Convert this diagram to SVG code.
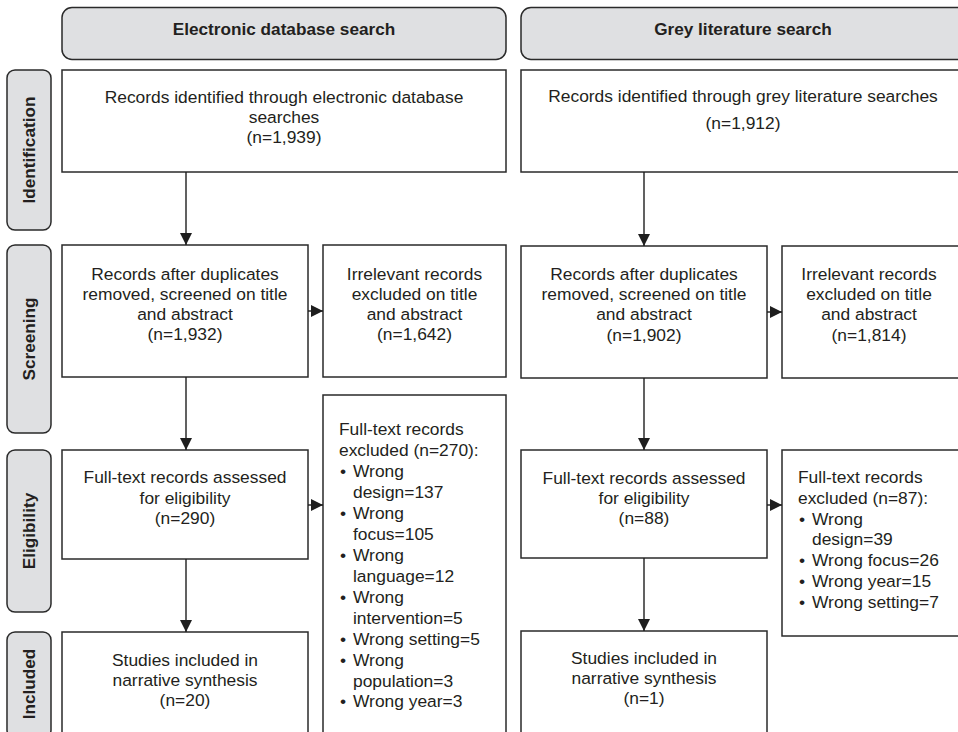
<svg xmlns="http://www.w3.org/2000/svg" width="958" height="732" viewBox="0 0 958 732">
<style>
  .hdr { fill: #dfe0e2; stroke: #2a2a2a; stroke-width: 1.5; }
  .box { fill: #ffffff; stroke: #2a2a2a; stroke-width: 1.5; }
  .t { font-family: "Liberation Sans", Arial, sans-serif; font-size: 17.4px; fill: #231f20; text-anchor: middle; }
  .tl { font-family: "Liberation Sans", Arial, sans-serif; font-size: 17.4px; fill: #231f20; }
  .b { font-family: "Liberation Sans", Arial, sans-serif; font-size: 17.2px; font-weight: bold; fill: #231f20; text-anchor: middle; }
  .conn { stroke: #1e1e1e; stroke-width: 1.4; fill: none; marker-end: url(#ah); }
</style>
<defs>
  <marker id="ah" markerUnits="userSpaceOnUse" markerWidth="12" markerHeight="12" viewBox="0 0 12 12" refX="12" refY="6" orient="auto">
    <path d="M0,0 L12,6 L0,12 Z" fill="#1e1e1e"/>
  </marker>
</defs>
<rect width="958" height="732" fill="#ffffff"/>

<g id="header-electronic">
  <rect class="hdr" x="62" y="7.5" width="444" height="52" rx="10"/>
  <text class="b" x="284" y="35">Electronic database search</text>
</g>
<g id="header-grey">
  <rect class="hdr" x="521" y="7.5" width="460" height="52" rx="10"/>
  <text class="b" x="743" y="35">Grey literature search</text>
</g>

<g id="label-identification">
  <rect class="hdr" x="7" y="70" width="44" height="160" rx="8"/>
  <text class="b" transform="translate(35,150) rotate(-90)">Identification</text>
</g>
<g id="label-screening">
  <rect class="hdr" x="7" y="245" width="44" height="188" rx="8"/>
  <text class="b" transform="translate(35,339) rotate(-90)">Screening</text>
</g>
<g id="label-eligibility">
  <rect class="hdr" x="7" y="450" width="44" height="162" rx="8"/>
  <text class="b" transform="translate(35,531) rotate(-90)">Eligibility</text>
</g>
<g id="label-included">
  <rect class="hdr" x="7" y="632" width="44" height="106" rx="8"/>
  <text class="b" transform="translate(35,684) rotate(-90)">Included</text>
</g>

<g id="ident-electronic">
  <rect class="box" x="62" y="70" width="444" height="102"/>
  <text class="t" x="284" y="103">Records identified through electronic database</text>
  <text class="t" x="284" y="123">searches</text>
  <text class="t" x="284" y="143">(n=1,939)</text>
</g>
<g id="ident-grey">
  <rect class="box" x="521" y="70" width="460" height="102"/>
  <text class="t" x="743" y="102">Records identified through grey literature searches</text>
  <text class="t" x="743" y="129">(n=1,912)</text>
</g>

<g id="screen-electronic">
  <rect class="box" x="62" y="245" width="246" height="132"/>
  <text class="t" x="185" y="280">Records after duplicates</text>
  <text class="t" x="185" y="300">removed, screened on title</text>
  <text class="t" x="185" y="320">and abstract</text>
  <text class="t" x="185" y="340">(n=1,932)</text>
</g>
<g id="excl-screen-electronic">
  <rect class="box" x="323" y="245" width="183" height="132"/>
  <text class="t" x="414.5" y="280">Irrelevant records</text>
  <text class="t" x="414.5" y="300">excluded on title</text>
  <text class="t" x="414.5" y="320">and abstract</text>
  <text class="t" x="414.5" y="340">(n=1,642)</text>
</g>
<g id="screen-grey">
  <rect class="box" x="521" y="246" width="246" height="132"/>
  <text class="t" x="644" y="280">Records after duplicates</text>
  <text class="t" x="644" y="300">removed, screened on title</text>
  <text class="t" x="644" y="320">and abstract</text>
  <text class="t" x="644" y="341">(n=1,902)</text>
</g>
<g id="excl-screen-grey">
  <rect class="box" x="782" y="246" width="200" height="132"/>
  <text class="t" x="869" y="280">Irrelevant records</text>
  <text class="t" x="869" y="300">excluded on title</text>
  <text class="t" x="869" y="320">and abstract</text>
  <text class="t" x="869" y="341">(n=1,814)</text>
</g>

<g id="elig-electronic">
  <rect class="box" x="62" y="450" width="246" height="109"/>
  <text class="t" x="185" y="483">Full-text records assessed</text>
  <text class="t" x="185" y="504">for eligibility</text>
  <text class="t" x="185" y="524">(n=290)</text>
</g>
<g id="excl-fulltext-electronic">
  <rect class="box" x="323" y="395" width="183" height="350"/>
  <text class="tl" x="339" y="435">Full-text records</text>
  <text class="tl" x="339" y="456">excluded (n=270):</text>
  <text class="tl" x="340" y="477">•</text><text class="tl" x="353" y="477">Wrong</text>
  <text class="tl" x="353" y="498">design=137</text>
  <text class="tl" x="340" y="519">•</text><text class="tl" x="353" y="519">Wrong</text>
  <text class="tl" x="353" y="540">focus=105</text>
  <text class="tl" x="340" y="561">•</text><text class="tl" x="353" y="561">Wrong</text>
  <text class="tl" x="353" y="582">language=12</text>
  <text class="tl" x="340" y="603">•</text><text class="tl" x="353" y="603">Wrong</text>
  <text class="tl" x="353" y="624">intervention=5</text>
  <text class="tl" x="340" y="645">•</text><text class="tl" x="353" y="645">Wrong setting=5</text>
  <text class="tl" x="340" y="666">•</text><text class="tl" x="353" y="666">Wrong</text>
  <text class="tl" x="353" y="687">population=3</text>
  <text class="tl" x="340" y="707">•</text><text class="tl" x="353" y="707">Wrong year=3</text>
</g>
<g id="elig-grey">
  <rect class="box" x="521" y="450" width="246" height="108"/>
  <text class="t" x="644" y="484">Full-text records assessed</text>
  <text class="t" x="644" y="504">for eligibility</text>
  <text class="t" x="644" y="524">(n=88)</text>
</g>
<g id="excl-fulltext-grey">
  <rect class="box" x="782" y="450" width="200" height="186"/>
  <text class="tl" x="798" y="483">Full-text records</text>
  <text class="tl" x="798" y="504">excluded (n=87):</text>
  <text class="tl" x="799" y="525">•</text><text class="tl" x="812" y="525">Wrong</text>
  <text class="tl" x="812" y="545">design=39</text>
  <text class="tl" x="799" y="566">•</text><text class="tl" x="812" y="566">Wrong focus=26</text>
  <text class="tl" x="799" y="587">•</text><text class="tl" x="812" y="587">Wrong year=15</text>
  <text class="tl" x="799" y="608">•</text><text class="tl" x="812" y="608">Wrong setting=7</text>
</g>

<g id="incl-electronic">
  <rect class="box" x="62" y="632" width="246" height="120"/>
  <text class="t" x="185" y="666">Studies included in</text>
  <text class="t" x="185" y="686">narrative synthesis</text>
  <text class="t" x="185" y="706">(n=20)</text>
</g>
<g id="incl-grey">
  <rect class="box" x="521" y="631" width="246" height="120"/>
  <text class="t" x="644" y="664">Studies included in</text>
  <text class="t" x="644" y="684">narrative synthesis</text>
  <text class="t" x="644" y="704">(n=1)</text>
</g>

<g id="connectors">
  <line class="conn" x1="186" y1="172" x2="186" y2="245"/>
  <line class="conn" x1="644" y1="172" x2="644" y2="246"/>
  <line class="conn" x1="186" y1="377" x2="186" y2="450"/>
  <line class="conn" x1="644" y1="378" x2="644" y2="450"/>
  <line class="conn" x1="186" y1="559" x2="186" y2="632"/>
  <line class="conn" x1="644" y1="558" x2="644" y2="631"/>
  <line class="conn" x1="308" y1="311" x2="323" y2="311"/>
  <line class="conn" x1="767" y1="312" x2="782" y2="312"/>
  <line class="conn" x1="308" y1="505" x2="323" y2="505"/>
  <line class="conn" x1="767" y1="505" x2="782" y2="505"/>
</g>
</svg>
